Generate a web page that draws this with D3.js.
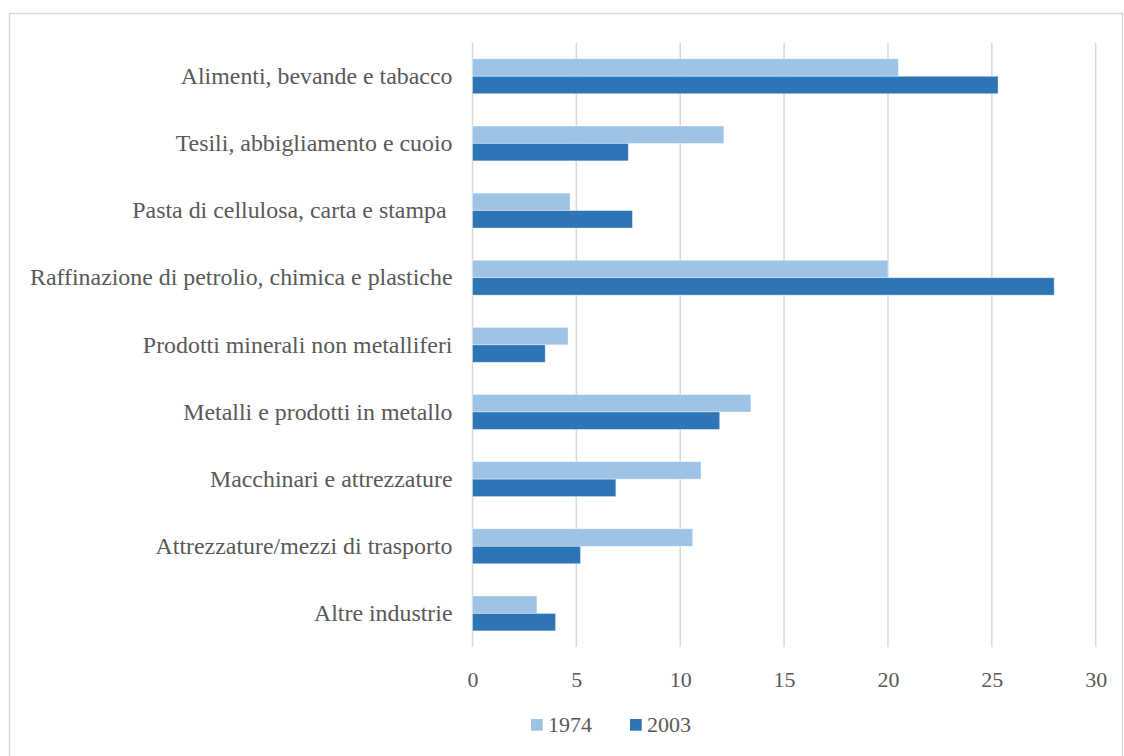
<!DOCTYPE html>
<html>
<head>
<meta charset="utf-8">
<script src="https://cdn.jsdelivr.net/npm/d3@7"></script>
<style>
  body { margin: 0; background: #fff; }
</style>
</head>
<body>
<div id="chart"></div>
<script>
// settori (dall'alto in basso)
var categorie = [
  "Alimenti, bevande e tabacco",
  "Tesili, abbigliamento e cuoio",
  "Pasta di cellulosa, carta e stampa ",
  "Raffinazione di petrolio, chimica e plastiche",
  "Prodotti minerali non metalliferi",
  "Metalli e prodotti in metallo",
  "Macchinari e attrezzature",
  "Attrezzature/mezzi di trasporto",
  "Altre industrie"
];
var serie = ["1974", "2003"];
var valori1974 = [20.5, 12.1, 4.7, 20.0, 4.6, 13.4, 11.0, 10.6, 3.1];
var valori2003 = [25.3, 7.5, 7.7, 28.0, 3.5, 11.9, 6.9, 5.2, 4.0];
var tickValori = [0, 5, 10, 15, 20, 25, 30];
var colori = ["#9DC3E6", "#2E75B6"];

var FONT = "Liberation Serif, Tinos, Times New Roman, Noto Serif, DejaVu Serif, serif";
var fontSize = 22,
    fontNum = 22;

var width = 1124, height = 756;
var margin = { top: 42.7, right: 28.3, bottom: 109, left: 472.5 };
var innerW = width - margin.left - margin.right,
    innerH = height - margin.top - margin.bottom;

var svg = d3.select("#chart").append("svg")
  .attr("width", width)
  .attr("height", height)
  .attr("font-family", FONT);

// cornice grigia
svg.append("rect")
  .attr("x", 9.5).attr("y", 13.5)
  .attr("width", 1113).attr("height", 760)
  .attr("fill", "none")
  .attr("stroke", "#d9d9d9")
  .attr("stroke-width", 1.5);

// misura: l'etichetta "Alimenti..." nel riferimento è larga circa 272px, "30" circa 22px
var prova = svg.append("text").attr("font-size", 22).text(categorie[0]);
var larg = prova.node().getComputedTextLength();
prova.text("30");
var largNum = prova.node().getComputedTextLength();
prova.remove();
if (larg > 0) fontSize = Math.max(16, Math.min(24, 22 * 272 / larg));
if (largNum > 0) fontNum = Math.max(16, Math.min(24, 22 * 22 / largNum));

var g = svg.append("g").attr("transform", "translate(" + margin.left + "," + margin.top + ")");

var x = d3.scaleLinear().domain([0, 30]).range([0, innerW]);
var y = d3.scaleBand().domain(categorie).range([0, innerH]).paddingInner(0.48).paddingOuter(0.24);
var ySub = d3.scaleBand().domain(serie).range([0, y.bandwidth()]);

// griglia verticale
g.selectAll(".grid")
  .data(tickValori)
  .enter().append("line")
    .attr("class", "grid")
    .attr("x1", function (d) { return x(d) }).attr("x2", function (d) { return x(d) })
    .attr("y1", 0).attr("y2", innerH)
    .attr("stroke", "#d9d9d9")
    .attr("stroke-width", 1.5);

// asse x
var xAxis = g.append("g")
  .attr("transform", "translate(0," + innerH + ")")
  .call(d3.axisBottom(x).tickValues(tickValori).tickSize(0).tickPadding(24));
xAxis.attr("font-family", FONT).attr("font-size", fontNum);
xAxis.select(".domain").remove();
xAxis.selectAll("text").attr("fill", "#595959");

// etichette categorie
var yAxis = g.append("g")
  .call(d3.axisLeft(y).tickSize(0).tickPadding(20));
yAxis.attr("font-family", FONT).attr("font-size", fontSize);
yAxis.select(".domain").remove();
yAxis.selectAll("text").attr("fill", "#595959").style("white-space", "pre");

// barre
var righe = categorie.map(function (c, i) {
  return { cat: c, vals: [valori1974[i], valori2003[i]] };
});

var gruppi = g.selectAll(".gruppo")
  .data(righe)
  .enter().append("g")
    .attr("class", "gruppo")
    .attr("transform", function (d) { return "translate(0," + y(d.cat) + ")" });

gruppi.selectAll("rect")
  .data(function (d) { return d.vals.map(function (v, j) { return { s: serie[j], v: v, j: j } }) })
  .enter().append("rect")
    .attr("x", x(0))
    .attr("y", function (d) { return ySub(d.s) })
    .attr("width", function (d) { return x(d.v) - x(0) })
    .attr("height", ySub.bandwidth())
    .attr("fill", function (d) { return colori[d.j] })
    .attr("stroke", "#ffffff")
    .attr("stroke-opacity", 0.5)
    .attr("stroke-width", 0.75);

// legenda
var legendaX = [531, 630];
var legenda = svg.selectAll(".leg")
  .data(serie)
  .enter().append("g")
    .attr("class", "leg")
    .attr("transform", function (d, i) { return "translate(" + legendaX[i] + ",719)" });
legenda.append("rect")
  .attr("width", 11.7).attr("height", 11.7)
  .attr("fill", function (d, i) { return colori[i] });
legenda.append("text")
  .attr("x", 17).attr("y", 13)
  .attr("font-size", fontNum)
  .attr("fill", "#595959")
  .text(function (d) { return d });
</script>
</body>
</html>
